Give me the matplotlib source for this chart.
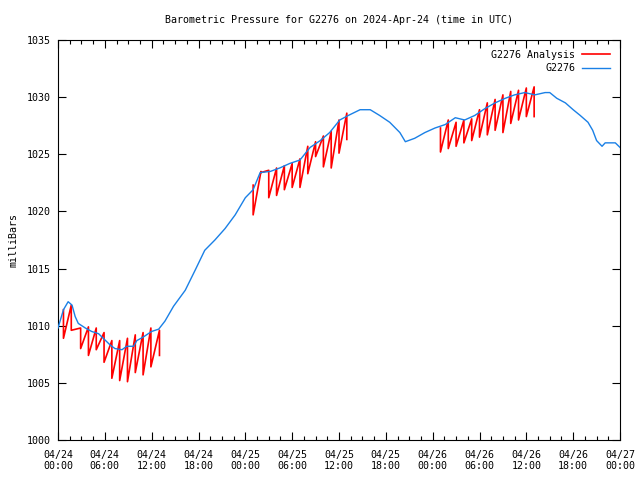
import matplotlib
matplotlib.use("Agg")
import matplotlib.pyplot as plt
from matplotlib.ticker import MultipleLocator

# hours since 2024-04-24 00:00 UTC
obs_hours = [0, 0.7, 1.3, 1.8, 2.2, 2.6, 3.5, 4.3, 5.2, 5.8, 6.7, 7.3, 8.2, 8.8,
             9.7, 10.1, 10.9, 12.0, 12.9, 13.7, 14.8, 16.3, 17.6, 18.8, 20.1,
             21.4, 22.7, 24.0, 25.0, 25.9, 27.2, 28.4, 29.7, 31.0, 32.3, 33.6,
             34.8, 36.1, 37.2, 38.7, 40.0, 41.2, 42.5, 43.8, 44.5, 45.7, 47.0,
             48.3, 49.6, 50.9, 52.1, 53.4, 54.7, 56.0, 57.3, 58.5, 59.8, 61.1,
             62.4, 63.0, 63.9, 65.0, 66.0, 66.9, 67.9, 68.5, 69.0, 69.7, 70.1,
             71.4, 72.0]
obs_pressure = [1009.8, 1011.4, 1012.1, 1011.8, 1010.8, 1010.2, 1009.8, 1009.5,
                1009.3, 1008.9, 1008.3, 1008.0, 1007.9, 1008.2, 1008.2, 1008.7,
                1009.0, 1009.5, 1009.7, 1010.4, 1011.7, 1013.1, 1014.9, 1016.6,
                1017.5, 1018.5, 1019.7, 1021.2, 1021.9, 1023.4, 1023.5, 1023.8,
                1024.2, 1024.5, 1025.6, 1026.2, 1026.9, 1028.0, 1028.4, 1028.9,
                1028.9, 1028.4, 1027.8, 1026.9, 1026.1, 1026.4, 1026.9, 1027.3,
                1027.6, 1028.2, 1028.0, 1028.4, 1029.0, 1029.5, 1029.9, 1030.2,
                1030.4, 1030.2, 1030.4, 1030.4, 1029.9, 1029.5, 1028.9, 1028.4,
                1027.8, 1027.1, 1026.2, 1025.7, 1026.0, 1026.0, 1025.6]

# analysis: at each time a high and a low value (sawtooth)
ana_hours = [
    [0.7, 1.7, 2.9, 3.9, 4.9, 5.9, 6.9, 7.9, 8.9, 9.9, 10.9, 11.9, 13.0],
    [25.0, 26.0, 27.0, 28.0, 29.0, 30.0, 31.0, 32.0, 33.0, 34.0, 35.0, 36.0, 37.0],
    [49.0, 50.0, 51.0, 52.0, 53.0, 54.0, 55.0, 56.0, 57.0, 58.0, 59.0, 60.0, 61.0],
]
ana_high = [
    [1011.4, 1011.8, 1009.8, 1009.9, 1009.8, 1009.4, 1008.7, 1008.7, 1008.9,
     1009.2, 1009.4, 1009.8, 1009.6],
    [1022.3, 1023.5, 1023.6, 1023.8, 1024.0, 1024.2, 1024.6, 1025.7, 1026.1,
     1026.6, 1027.0, 1028.0, 1028.6],
    [1027.3, 1028.0, 1027.8, 1028.0, 1028.1, 1028.9, 1029.5, 1029.8, 1030.2,
     1030.5, 1030.6, 1030.8, 1030.9],
]
ana_low = [
    [1008.9, 1009.6, 1008.0, 1007.4, 1007.9, 1006.8, 1005.4, 1005.2, 1005.1,
     1005.9, 1005.7, 1006.4, 1007.4],
    [1019.7, 1023.4, 1021.2, 1021.4, 1021.9, 1022.1, 1022.1, 1023.3, 1024.8,
     1023.9, 1023.8, 1025.1, 1026.3],
    [1025.2, 1025.5, 1025.7, 1026.0, 1026.2, 1026.5, 1026.7, 1027.1, 1026.9,
     1027.7, 1028.0, 1028.3, 1028.3],
]

tick_hours = [0, 6, 12, 18, 24, 30, 36, 42, 48, 54, 60, 66, 72]
tick_labels = ["04/24\n00:00", "04/24\n06:00", "04/24\n12:00", "04/24\n18:00",
               "04/25\n00:00", "04/25\n06:00", "04/25\n12:00", "04/25\n18:00",
               "04/26\n00:00", "04/26\n06:00", "04/26\n12:00", "04/26\n18:00",
               "04/27\n00:00"]

plt.rcParams["font.family"] = "DejaVu Sans Mono"
plt.rcParams["font.size"] = 7.2

fig = plt.figure(figsize=(6.4, 4.8), dpi=100)
ax = fig.add_axes([58 / 640, 40 / 480, 562 / 640, 400 / 480])

red = "#ff0000"
blue = "#1a80e6"

first = True
for hrs, hi, lo in zip(ana_hours, ana_high, ana_low):
    xs, ys = [], []
    for t, h, l in zip(hrs, hi, lo):
        xs += [t, t]
        ys += [h, l]
    ax.plot(xs, ys, color=red, lw=1.2, label="G2276 Analysis" if first else None,
            zorder=2)
    first = False

ax.plot(obs_hours, obs_pressure, color=blue, lw=1.0, label="G2276", zorder=3)

ax.set_xlim(0, 72)
ax.set_ylim(1000, 1035)
ax.set_xticks(tick_hours)
ax.set_xticklabels(tick_labels)
ax.xaxis.set_minor_locator(MultipleLocator(1.5))
ax.yaxis.set_major_locator(MultipleLocator(5))
ax.tick_params(which="both", direction="in", top=True, right=True, width=0.8)
ax.tick_params(which="major", length=6, pad=5)
ax.tick_params(axis="x", which="major", pad=7)
ax.tick_params(which="minor", length=3)
for s in ax.spines.values():
    s.set_linewidth(0.8)

ax.set_ylabel("milliBars", labelpad=6)
ax.set_title("Barometric Pressure for G2276 on 2024-Apr-24 (time in UTC)",
             fontsize=7.2, pad=12)

leg = ax.legend(loc="upper right", frameon=False, markerfirst=False,
                handlelength=2.8, handletextpad=0.7, borderaxespad=0.6,
                labelspacing=0.35)
for t in leg.get_texts():
    t.set_ha("right")

fig.savefig("out.png", dpi=100)
